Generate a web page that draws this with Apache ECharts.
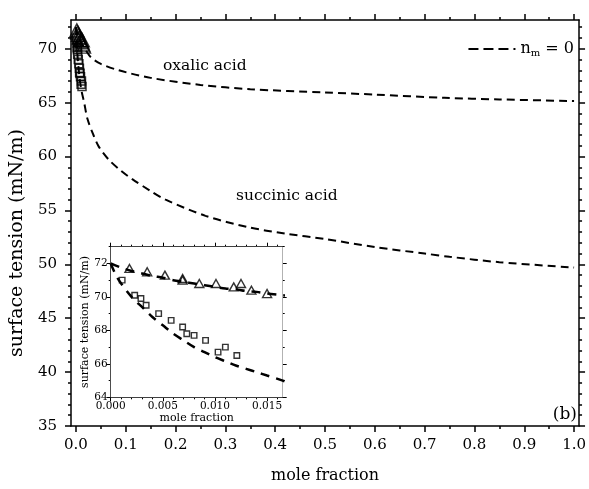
<!DOCTYPE html>
<html><head><meta charset="utf-8">
<script src="https://cdn.jsdelivr.net/npm/echarts@6/dist/echarts.min.js"></script>
<style>html,body{margin:0;padding:0;background:#fff}#c{width:589px;height:489px}</style>
</head><body><div id="c"></div>
<script>
const FONT = 'DejaVu Serif';
// experimental points
const oxalicX = [0.0018,0.0035,0.0052,0.0069,0.0069,0.0085,0.0101,0.0118,0.0125,0.0135,0.0150];
const oxalicY = [71.7,71.5,71.3,71.1,71.0,70.8,70.8,70.6,70.8,70.4,70.2];
const succinicX = [0.0011,0.0023,0.0029,0.0034,0.0046,0.0058,0.0069,0.0073,0.0080,0.0091,0.0103,0.0110,0.0121];
const succinicY = [71.0,70.1,69.9,69.5,69.0,68.6,68.2,67.8,67.7,67.4,66.7,67.0,66.5];
// model curves (n_m = 0)
const oxalicFitX = [0,0.001,0.002,0.003,0.004,0.005,0.006,0.007,0.008,0.009,0.010,0.011,0.012,0.013,0.014,0.015,0.0165,0.02,0.03,0.05,0.086,0.15,0.25,0.35,0.5,0.6,0.74,0.85,1.0];
const oxalicFitY = [72.0,71.75,71.55,71.4,71.25,71.15,71.0,70.9,70.8,70.7,70.6,70.5,70.45,70.35,70.3,70.2,70.1,69.85,69.2,68.6,68.0,67.3,66.65,66.25,65.95,65.75,65.45,65.3,65.15];
const succinicFitX = [0,0.0005,0.001,0.002,0.003,0.004,0.005,0.006,0.007,0.008,0.009,0.010,0.011,0.012,0.013,0.014,0.015,0.0165,0.023,0.035,0.046,0.066,0.09,0.113,0.15,0.18,0.26,0.345,0.42,0.5,0.6,0.7,0.75,0.85,1.0];
const succinicFitY = [72.0,71.3,70.8,70.0,69.4,68.8,68.3,67.8,67.4,67.0,66.7,66.4,66.15,65.9,65.7,65.5,65.3,65.0,63.5,62.0,60.9,59.7,58.7,57.9,56.8,56.0,54.5,53.45,52.85,52.35,51.6,51.0,50.7,50.2,49.7];
// ticks
const mainXTicks = [0,0.1,0.2,0.3,0.4,0.5,0.6,0.7,0.8,0.9,1.0];
const mainXMinor = [0.05,0.15,0.25,0.35,0.45,0.55,0.65,0.75,0.85,0.95];
const mainYTicks = [35,40,45,50,55,60,65,70];
const mainYMinor = [36,37,38,39,41,42,43,44,46,47,48,49,51,52,53,54,56,57,58,59,61,62,63,64,66,67,68,69,71,72];
const insetXTicks = [0,0.005,0.010,0.015];
const insetXMinor = [0.001,0.002,0.003,0.004,0.006,0.007,0.008,0.009,0.011,0.012,0.013,0.014,0.016];
const insetYTicks = [64,66,68,70,72];
const insetYMinor = [65,67,69,71,73];

const zip = (xs, ys) => xs.map((x, i) => [x, ys[i]]);

function ax(grid, pos, min, max, ticks, len, lw, showLine, extra) {
  return Object.assign({
    type: 'value', gridIndex: grid, position: pos, min: min, max: max,
    splitLine: {show: false},
    axisLine: {show: showLine, onZero: false, lineStyle: {color: '#000', width: lw}},
    axisTick: {show: true, inside: false, length: len, customValues: ticks, lineStyle: {color: '#000', width: lw}},
    axisLabel: {show: false}
  }, extra || {});
}
const MX = [-0.01, 1.01], MY = [35, 72.67], IX = [0, 0.0165], IY = [64, 73];
const mainLbl = {color: '#000', fontFamily: FONT, fontSize: 15};
const insLbl = {color: '#000', fontFamily: FONT, fontSize: 10.5};

const xAxes = [
  ax(0, 'bottom', MX[0], MX[1], mainXTicks, 6, 1.5, true, {
    axisLabel: {show: true, customValues: mainXTicks, margin: 12, formatter: v => v.toFixed(1), ...mainLbl},
    name: 'mole fraction', nameLocation: 'middle', nameGap: 42,
    nameTextStyle: {color: '#000', fontFamily: FONT, fontSize: 16}
  }),
  ax(0, 'bottom', MX[0], MX[1], mainXMinor, 3, 1.5, false),
  ax(0, 'top', MX[0], MX[1], mainXTicks, 6, 1.5, true),
  ax(0, 'top', MX[0], MX[1], mainXMinor, 3, 1.5, false),
  ax(1, 'bottom', IX[0], IX[1], insetXTicks, 4, 1, true, {
    axisLabel: {show: true, customValues: insetXTicks, margin: 3, formatter: v => v.toFixed(3), ...insLbl},
    name: 'mole fraction', nameLocation: 'middle', nameGap: 15,
    nameTextStyle: {color: '#000', fontFamily: FONT, fontSize: 11}
  }),
  ax(1, 'bottom', IX[0], IX[1], insetXMinor, 2, 1, false),
  ax(1, 'top', IX[0], IX[1], insetXTicks, 4, 1, true),
  ax(1, 'top', IX[0], IX[1], insetXMinor, 2, 1, false)
];
const yAxes = [
  ax(0, 'left', MY[0], MY[1], mainYTicks, 6, 1.5, true, {
    axisLabel: {show: true, customValues: mainYTicks, margin: 14, formatter: v => String(v), ...mainLbl},
    name: 'surface tension (mN/m)', nameLocation: 'middle', nameGap: 41,
    nameTextStyle: {color: '#000', fontFamily: FONT, fontSize: 19, padding: [0, 40, 0, 0]}
  }),
  ax(0, 'left', MY[0], MY[1], mainYMinor, 3, 1.5, false),
  ax(0, 'right', MY[0], MY[1], mainYTicks, 6, 1.5, true),
  ax(0, 'right', MY[0], MY[1], mainYMinor, 3, 1.5, false),
  ax(1, 'left', IY[0], IY[1], insetYTicks, 4, 1, true, {
    axisLabel: {show: true, customValues: insetYTicks, margin: 3, formatter: v => String(v), ...insLbl},
    name: 'surface tension (mN/m)', nameLocation: 'middle', nameGap: 17,
    nameTextStyle: {color: '#000', fontFamily: FONT, fontSize: 11}
  }),
  ax(1, 'left', IY[0], IY[1], insetYMinor, 2, 1, false),
  ax(1, 'right', IY[0], IY[1], insetYTicks, 4, 1, true),
  ax(1, 'right', IY[0], IY[1], insetYMinor, 2, 1, false)
];

const fitLine = (name, xs, ys, xi, yi, dash, w) => ({
  type: 'line', name: name, xAxisIndex: xi, yAxisIndex: yi, data: zip(xs, ys),
  symbol: 'none', showSymbol: false, smooth: 0.3, z: 3, clip: true,
  lineStyle: {color: '#000', width: w, type: dash}, itemStyle: {color: '#000'}
});
const pts = (name, xs, ys, xi, yi, sym, size, bw) => ({
  type: 'scatter', name: name, xAxisIndex: xi, yAxisIndex: yi, data: zip(xs, ys),
  symbol: sym, symbolSize: size, z: 4,
  itemStyle: {color: 'rgba(255,255,255,0)', borderColor: '#000', borderWidth: bw}
});

const option = {
  backgroundColor: '#fff',
  animation: false,
  grid: [
    {left: 71, right: 6, top: 20, bottom: 57.3, show: false},
    {left: 110.7, top: 246.7, width: 172, height: 150.6, show: true, backgroundColor: '#fff', borderWidth: 0, z: 5}
  ],
  legend: {
    data: ['nm0'], right: 10, top: 36, itemWidth: 47, itemHeight: 12, itemGap: 5,
    itemStyle: {color: 'rgba(0,0,0,0)', borderColor: 'rgba(0,0,0,0)', borderWidth: 0},
    lineStyle: {color: '#000', width: 2, type: [10, 5]},
    formatter: () => '{n|n}{s|m}{n| = 0}',
    textStyle: {color: '#000', fontFamily: FONT, fontSize: 16,
      rich: {n: {fontFamily: FONT, fontSize: 16, color: '#000'},
             s: {fontFamily: FONT, fontSize: 10, color: '#000', padding: [9, 0, 0, 0]}}}
  },
  xAxis: xAxes,
  yAxis: yAxes,
  series: [
    fitLine('nm0', oxalicFitX, oxalicFitY, 0, 0, [8, 5], 2),
    fitLine('nm0', succinicFitX, succinicFitY, 0, 0, [8, 5], 2),
    pts('ox', oxalicX, oxalicY, 0, 0, 'triangle', [14, 13], 1.5),
    pts('su', succinicX, succinicY, 0, 0, 'rect', 8, 1.5),
    Object.assign(fitLine('insfit', oxalicFitX, oxalicFitY, 4, 4, [9, 7], 2.5), {z: 6}),
    Object.assign(fitLine('insfit', succinicFitX, succinicFitY, 4, 4, [9, 7], 2.5), {z: 6}),
    Object.assign(pts('ox2', oxalicX, oxalicY, 4, 4, 'triangle', [9, 8], 1.4), {z: 7}),
    Object.assign(pts('su2', succinicX, succinicY, 4, 4, 'rect', 5.5, 1.4), {z: 7})
  ],
  graphic: [
    {type: 'text', x: 163, y: 66, style: {text: 'oxalic acid', fill: '#000', font: '15.5px "DejaVu Serif"', align: 'left', verticalAlign: 'middle'}},
    {type: 'text', x: 236, y: 196, style: {text: 'succinic acid', fill: '#000', font: '15.5px "DejaVu Serif"', align: 'left', verticalAlign: 'middle'}},
    {type: 'text', x: 577, y: 415, style: {text: '(b)', fill: '#000', font: '17px "DejaVu Serif"', align: 'right', verticalAlign: 'middle'}}
  ]
};
const chart = echarts.init(document.getElementById('c'), null, {renderer: 'canvas'});
chart.setOption(option);
</script></body></html>
